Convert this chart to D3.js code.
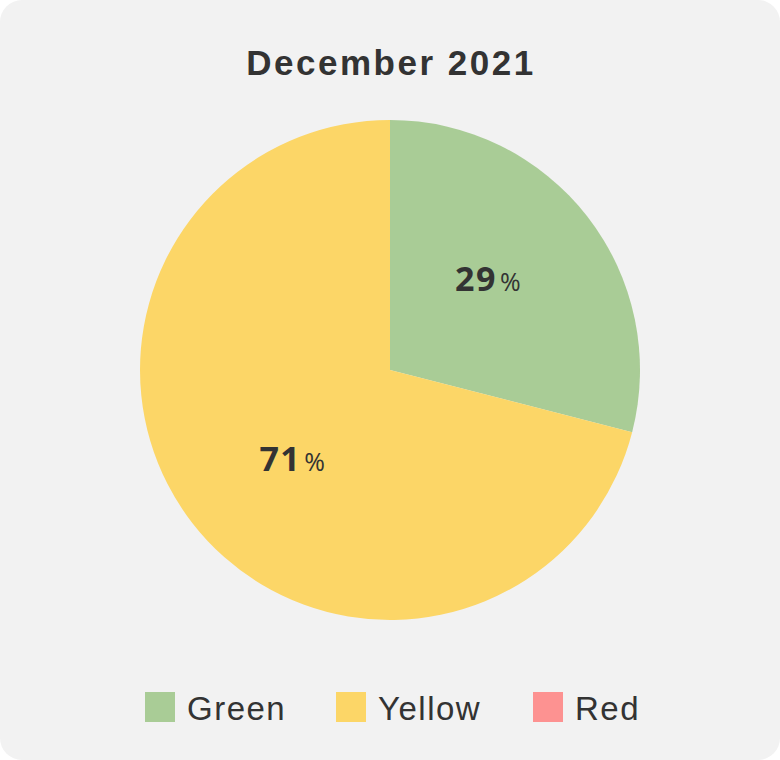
<!DOCTYPE html>
<html>
<head>
<meta charset="utf-8">
<script src="https://cdn.jsdelivr.net/npm/d3@7"></script>
<style>
  html, body { margin: 0; padding: 0; background: #fff; }
  svg { display: block; }
</style>
</head>
<body>
<div id="chart"></div>
<script>
// chart data
const title = 'December 2021';
const categories = ['Green', 'Yellow', 'Red'];
const values = [29, 71, 0];
const colors = ['#a9cc96', '#fcd667', '#fd9291'];

const w = 780,
  h = 760;
const cx = 390,
  cy = 370,
  r = 250;

const svg = d3
  .select('#chart')
  .append('svg')
  .attr('width', w)
  .attr('height', h);

// panel background
svg
  .append('rect')
  .attr('x', 0)
  .attr('y', 0)
  .attr('width', w)
  .attr('height', h)
  .attr('rx', 22)
  .attr('fill', '#f2f2f2');

svg
  .append('text')
  .attr('x', w / 2 + 1)
  .attr('y', 75)
  .attr('text-anchor', 'middle')
  .attr('font-family', '"Liberation Sans", Arial, sans-serif')
  .attr('font-weight', 'bold')
  .attr('font-size', 35)
  .attr('letter-spacing', 2.5)
  .attr('fill', '#333')
  .text(title);

const pie = d3
  .pie()
  .sort(null)
  .value(d => d.value);

const arcs = pie(categories.map((c, i) => ({ name: c, value: values[i], color: colors[i] })));

const arc = d3.arc().innerRadius(0).outerRadius(r);

const g = svg.append('g').attr('transform', `translate(${cx}, ${cy})`);

g.selectAll('path')
  .data(arcs.filter(d => d.data.value > 0))
  .enter()
  .append('path')
  .attr('d', arc)
  .attr('fill', d => d.data.color);

// labels sit a bit before the middle of each slice
const labelR = 133;
const labels = g
  .selectAll('text.label')
  .data(arcs.filter(d => d.data.value > 0))
  .enter()
  .append('text')
  .attr('class', 'label')
  .attr('transform', d => {
    const a = (d.startAngle + d.endAngle) / 2 - 0.085;
    return `translate(${Math.sin(a) * labelR}, ${-Math.cos(a) * labelR + 11})`;
  })
  .attr('text-anchor', 'middle')
  .attr('font-family', '"Open Sans", "Noto Sans", sans-serif')
  .attr('fill', '#333');

labels
  .append('tspan')
  .attr('font-weight', 'bold')
  .attr('font-size', 34)
  .attr('letter-spacing', 1.5)
  .text(d => d.data.value);
labels
  .append('tspan')
  .attr('dx', 3)
  .attr('font-size', 25)
  .text('%');

// legend
const legendX = [145, 336, 533];
const legend = svg
  .selectAll('g.legend')
  .data(categories)
  .enter()
  .append('g')
  .attr('class', 'legend')
  .attr('transform', (d, i) => `translate(${legendX[i]}, 692)`);

legend
  .append('rect')
  .attr('width', 30)
  .attr('height', 30)
  .attr('fill', (d, i) => colors[i]);

legend
  .append('text')
  .attr('x', 42)
  .attr('y', 28)
  .attr('font-family', '"Liberation Sans", Arial, sans-serif')
  .attr('font-size', 33)
  .attr('letter-spacing', 1.5)
  .attr('fill', '#333')
  .text(d => d);
</script>
</body>
</html>
